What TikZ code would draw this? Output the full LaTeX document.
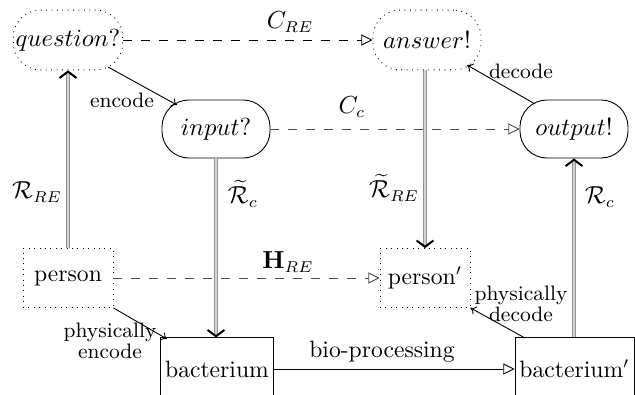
\documentclass[tikz,border=0pt]{standalone}
\usetikzlibrary{arrows.meta}
\begin{document}
\begin{tikzpicture}[x=0.4444pt,y=-0.4444pt,
  every node/.style={font=\fontsize{10.5}{12.6}\selectfont},
  abstractbox/.style={draw,dotted,rounded corners=12pt,minimum width=48pt,minimum height=26.6pt,inner sep=1pt},
  compbox/.style={draw,rounded corners=12pt,minimum width=48pt,minimum height=25.8pt,inner sep=1pt},
  physbox/.style={draw,dotted,minimum width=40pt,minimum height=26.2pt,inner sep=1pt},
  bactbox/.style={draw,minimum height=27.6pt,inner sep=2pt},
  rep/.style={draw=gray!85,double=gray!35,double distance=0.7pt,line width=0.55pt,
    -{Straight Barb[color=black,length=2.8pt,width=7.5pt,line width=0.9pt]}},
  evol/.style={dashed,dash pattern=on 4pt off 4pt,-{Triangle[open,length=5pt,width=5pt]}},
  solidarrow/.style={-{Triangle[open,length=5pt,width=5pt]}},
  thinarrow/.style={-{To[length=2.5pt,width=4pt]},line width=0.4pt},
  lbl/.style={font=\fontsize{9.3}{8}\selectfont,align=center,inner sep=0pt}
]
\useasboundingbox (0,0) rectangle (635,395);

\node[abstractbox] (q) at (68,40) {$question?$};
\node[abstractbox] (a) at (427,40) {$answer!$};
\node[compbox] (in) at (216,129) {$input?$};
\node[compbox] (out) at (574,129) {$output!$};
\node[physbox] (p) at (68,278) {person};
\node[physbox] (pp) at (425,278) {person$'$};
\node[bactbox,minimum width=49.8pt] (b) at (217,369) {bacterium};
\node[bactbox,minimum width=52.9pt] (bp) at (574.5,369) {bacterium$'$};

% abstract evolution
\draw[evol] (q) -- (a);
\node (cre) at (290,22) {$C_{RE}$};
\draw[evol,draw=black!70] (in) -- (out);
\node (cc) at (352,107) {$C_c$};
\draw[evol,draw=black!70] (p) -- (pp);
\node (hre) at (288,262) {$\mathbf{H}_{RE}$};
\draw[solidarrow] (b) -- (bp);
\node (bio) at (382,352) {bio-processing};

% representations
\draw[rep] (p.north) -- (q.south);
\node (rre) at (37,192) {$\mathcal{R}_{RE}$};
\draw[rep] (in.south) -- (b.north -| in.south);
\node (rtc) at (243,194) {$\widetilde{\mathcal{R}}_c$};
\draw[rep] (a.south -| pp.north) -- (pp.north);
\node (rtre) at (394,188) {$\widetilde{\mathcal{R}}_{RE}$};
\draw[rep] (bp.north -| out.south) -- (out.south);
\node (rc) at (600,197) {$\mathcal{R}_c$};

% encode / decode
\coordinate (qse) at (108,67);
\coordinate (innw) at (177,105);
\draw[thinarrow] (qse) -- (innw);
\node[lbl] (enc) at (122,100) {encode};
\coordinate (outnw) at (535,104);
\coordinate (ase) at (467,65);
\draw[thinarrow] (outnw) -- (ase);
\node[lbl] (dec) at (521,71) {decode};

\draw[thinarrow] (p.south east) -- (167,339);
\node[lbl] (penc) at (110,341) {physically\\encode};
\draw[thinarrow] (525,338) -- (pp.south east);
\node[lbl] (pdec) at (521,304) {physically\\decode};
\end{tikzpicture}
\end{document}
